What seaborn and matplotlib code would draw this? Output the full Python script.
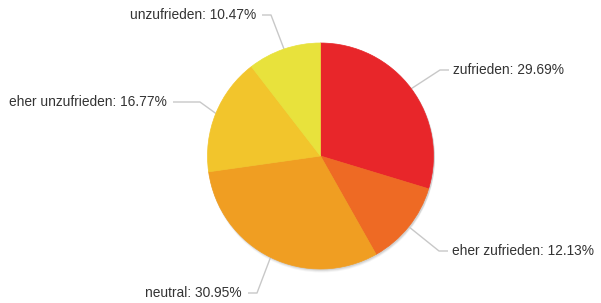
#!/usr/bin/env python3
"""Satisfaction pie chart with outside labels and elbow leader lines."""

import numpy as np
import matplotlib
matplotlib.use("Agg")
import matplotlib.pyplot as plt
import seaborn as sns

# Data
categories = ["zufrieden", "eher zufrieden", "neutral", "eher unzufrieden", "unzufrieden"]
shares = [29.69, 12.13, 30.95, 16.77, 10.47]
slice_colors = ["#E8262A", "#EE6A24", "#F09E22", "#F2C52C", "#E8E23C"]

# Label layout (pixel coordinates of the text anchor, top-left origin)
label_xy = [(453, 70), (452, 251), (242, 293), (167, 102), (256, 15)]
label_side = ["left", "left", "right", "right", "right"]

W, H = 601, 303
CX, CY, R = 320.5, 156, 113   # pie centre / radius in pixels


def py(y):
    """pixel y (top origin) -> data y (bottom origin)"""
    return H - y


def main():
    sns.set_theme(style="white")
    plt.rcParams["font.family"] = ["Liberation Sans", "DejaVu Sans"]

    fig = plt.figure(figsize=(W / 100, H / 100), dpi=100)
    ax = fig.add_axes([0, 0, 1, 1])

    # soft shadow under the pie
    for k, a in [(3, 0.04), (2, 0.06), (1, 0.08)]:
        ax.add_patch(plt.Circle((CX + 1, py(CY) - k), R + 0.5, color="black",
                                alpha=a, lw=0, zorder=0))

    wedges, _ = ax.pie(shares, colors=slice_colors, startangle=90,
                       counterclock=False, center=(CX, py(CY)), radius=R,
                       frame=False)
    for w in wedges:
        w.set_zorder(2)
        w.set_edgecolor(w.get_facecolor())
        w.set_linewidth(0.5)

    # labels with elbow connectors
    for w, name, val, (tx, ty), side in zip(wedges, categories, shares, label_xy, label_side):
        theta = np.deg2rad((w.theta1 + w.theta2) / 2)
        ex = CX + R * np.cos(theta)
        ey = py(CY) + R * np.sin(theta)
        if side == "left":
            hx0, elbow = tx - 4, tx - 13
            ha = "left"
        else:
            hx0, elbow = tx + 6, tx + 33 if name == "eher unzufrieden" else tx + 15
            ha = "right"
        ax.plot([ex, elbow, hx0], [ey, py(ty), py(ty)], color="#c8c8c8",
                lw=1.0, zorder=1, solid_capstyle="butt")
        ax.text(tx, py(ty), f"{name}: {val:.2f}%", ha=ha, va="center",
                fontsize=9.9, color="#333333", zorder=3)

    ax.set_xlim(0, W)
    ax.set_ylim(0, H)
    ax.set_aspect("auto")
    ax.axis("off")

    fig.savefig("out.png", dpi=100, facecolor="white")
    plt.close(fig)


if __name__ == "__main__":
    main()
